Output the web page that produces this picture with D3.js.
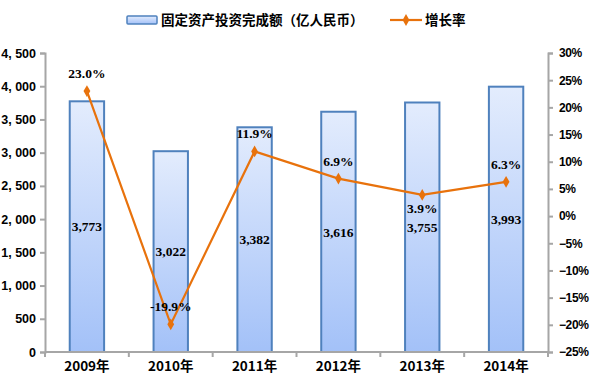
<!DOCTYPE html>
<html><head><meta charset="utf-8">
<script src="https://cdn.jsdelivr.net/npm/d3@7"></script>
<style>body{margin:0;background:#fff}svg{display:block}</style>
</head><body><svg id="c" width="591" height="385"></svg>
<script>
const categories = ["2009年","2010年","2011年","2012年","2013年","2014年"];
const investment = [3773,3022,3382,3616,3755,3993];
const growth = [23.0,-19.9,11.9,6.9,3.9,6.3];
const growthLabelSide = ["above","above","above","above","below","above"];
const leftTicks = [0,500,1000,1500,2000,2500,3000,3500,4000,4500];
const rightTicks = [30,25,20,15,10,5,0,-5,-10,-15,-20,-25];
const legendBar = "固定资产投资完成额（亿人民币）";
const legendLine = "增长率";

const svg = d3.select("#c");
const m = {l:45, r:43, t:53, b:33};
const W = 591, H = 385;
const x = d3.scaleBand().domain(categories).range([m.l, W-m.r]).paddingInner(0.59).paddingOuter(0.295);
const xb = d3.scaleBand().domain(categories).range([m.l, W-m.r]);
const yL = d3.scaleLinear().domain([0,4500]).range([H-m.b, m.t]);
const yR = d3.scaleLinear().domain([-25,30]).range([H-m.b, m.t]);

const defs = svg.append("defs");
const g = defs.append("linearGradient").attr("id","bg").attr("x1",0).attr("y1",0).attr("x2",0).attr("y2",1);
g.append("stop").attr("offset","0%").attr("stop-color","#E3ECFD");
g.append("stop").attr("offset","100%").attr("stop-color","#A3C1F8");
const lg = defs.append("linearGradient").attr("id","lg").attr("x1",0).attr("y1",0).attr("x2",0).attr("y2",1);
lg.append("stop").attr("offset","0%").attr("stop-color","#E3ECFD");
lg.append("stop").attr("offset","100%").attr("stop-color","#A3C1F8");

const font = "'Liberation Sans', Arial, sans-serif";
const cjk = "'Noto Sans CJK SC', sans-serif";
const serif = "'Liberation Serif', 'Times New Roman', serif";
const axisCol = "#A6A6A6";

// bars
svg.selectAll("rect.bar").data(investment).enter().append("rect")
  .attr("x",(d,i)=>x(categories[i])).attr("width",x.bandwidth())
  .attr("y",d=>yL(d)).attr("height",d=>yL(0)-yL(d))
  .attr("fill","url(#bg)").attr("stroke","#4F81BD").attr("stroke-width",2);

// axes
const axL = svg.append("g").attr("transform",`translate(${m.l},0)`)
  .call(d3.axisLeft(yL).tickValues(leftTicks).tickSize(5).tickFormat(d=>d3.format(",")(d).replace(",",", ")));
const axR = svg.append("g").attr("transform",`translate(${W-m.r},0)`)
  .call(d3.axisRight(yR).tickValues(rightTicks).tickSize(5).tickFormat(d=>(d<0?"−"+(-d):d)+"%"));
const axB = svg.append("g").attr("transform",`translate(0,${H-m.b})`)
  .call(d3.axisBottom(xb).tickSize(0).tickPadding(10));
[axL,axR,axB].forEach(a=>{
  a.select(".domain").attr("stroke",axisCol).attr("stroke-width",2);
  a.selectAll(".tick line").attr("stroke",axisCol).attr("stroke-width",2);
  a.selectAll("text").attr("fill","#000").attr("font-weight","bold");
});
axL.selectAll("text").attr("font-family",font).attr("font-size",12.5).attr("dx",-1);
axR.selectAll("text").attr("font-family",font).attr("font-size",12).attr("dx",3).attr("letter-spacing",-0.4);
axB.selectAll("text").attr("font-family",cjk).attr("font-size",13.5).attr("dy","0.7em");
// bottom tick marks at band boundaries
const bounds = categories.map(c=>xb(c)).concat([xb(categories[categories.length-1])+xb.bandwidth()]);
axB.selectAll("line.bt").data(bounds).enter().append("line").attr("class","bt")
  .attr("x1",d=>d).attr("x2",d=>d).attr("y1",0).attr("y2",5)
  .attr("stroke",axisCol).attr("stroke-width",2);
axB.select(".domain").attr("d",`M${m.l},0H${W-m.r}`);

// bar labels
svg.selectAll("text.vl").data(investment).enter().append("text")
  .attr("x",(d,i)=>x(categories[i])+x.bandwidth()/2).attr("y",d=>(yL(d)+yL(0))/2)
  .attr("dy","0.35em").attr("text-anchor","middle")
  .attr("font-family",serif).attr("font-weight","bold").attr("font-size",13.5)
  .text(d=>d3.format(",")(d));

// line
const cx = i=>xb(categories[i])+xb.bandwidth()/2;
svg.append("path").datum(growth)
  .attr("d",d3.line().x((d,i)=>cx(i)).y(d=>yR(d)))
  .attr("fill","none").attr("stroke","#E8720C").attr("stroke-width",2.2);
svg.selectAll("path.mk").data(growth).enter().append("path")
  .attr("transform",(d,i)=>`translate(${cx(i)},${yR(d)})`)
  .attr("d",d3.symbol(d3.symbolDiamond,40)).attr("fill","#E8720C");
svg.selectAll("text.gl").data(growth).enter().append("text")
  .attr("x",(d,i)=>cx(i)).attr("y",(d,i)=>yR(d)+(growthLabelSide[i]==="above"?-13:18))
  .attr("text-anchor","middle")
  .attr("font-family",serif).attr("font-weight","bold").attr("font-size",13.5)
  .text(d=>d.toFixed(1)+"%");

// legend
svg.append("rect").attr("x",127).attr("y",16).attr("width",30).attr("height",8)
  .attr("fill","url(#lg)").attr("stroke","#4F81BD").attr("stroke-width",1.5).attr("rx",1);
svg.append("text").attr("x",161).attr("y",25).attr("font-family",cjk).attr("font-weight","bold")
  .attr("font-size",13.5).text(legendBar);
svg.append("line").attr("x1",390).attr("x2",422).attr("y1",20).attr("y2",20)
  .attr("stroke","#E8720C").attr("stroke-width",2.2);
svg.append("path").attr("transform","translate(406,20)").attr("d",d3.symbol(d3.symbolDiamond,40)).attr("fill","#E8720C");
svg.append("text").attr("x",425).attr("y",25).attr("font-family",cjk).attr("font-weight","bold")
  .attr("font-size",13.5).text(legendLine);
</script></body></html>
